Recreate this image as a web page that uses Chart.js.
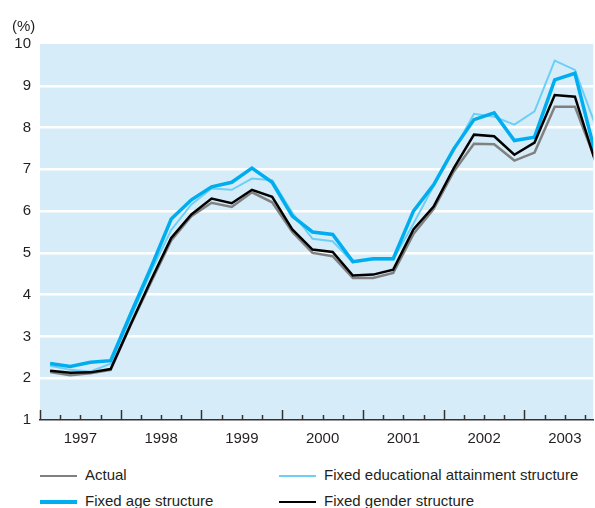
<!DOCTYPE html>
<html>
<head>
<meta charset="utf-8">
<script src="https://cdn.jsdelivr.net/npm/chart.js@4.4.1/dist/chart.umd.min.js"></script>
<style>
  html, body { margin: 0; padding: 0; background: #ffffff; overflow: hidden; }
  body { width: 595px; height: 508px; position: relative; font-family: "Liberation Sans", Arial, Helvetica, sans-serif; color: #231f20; }
  #wrap { position: absolute; left: 0; top: 0; width: 595px; height: 450px; }
  #unit { position: absolute; left: 12px; top: 17px; font-size: 15px; line-height: 18px; }
  #legend { position: absolute; left: 0; top: 464px; width: 595px; height: 44px; font-size: 15px; }
  .item { position: absolute; height: 22px; line-height: 22px; white-space: nowrap; }
  .swatch { position: absolute; left: 0; width: 37px; }
  .label { position: absolute; left: 45px; top: 0; }
</style>
</head>
<body>
<div id="wrap"><canvas id="c" width="595" height="450"></canvas></div>
<div id="unit">(%)</div>
<div id="legend"></div>
<script>
// ---- data (quarterly, 1997 Q1 – 2003 Q4) ----
const years = [1997, 1998, 1999, 2000, 2001, 2002, 2003];
const quarters = ['Q1', 'Q2', 'Q3', 'Q4'];
const yTicks = [1, 2, 3, 4, 5, 6, 7, 8, 9, 10];

const actual = [2.15, 2.07, 2.12, 2.20, 3.28, 4.30, 5.30, 5.88, 6.20, 6.10, 6.45, 6.21, 5.50, 5.00, 4.92, 4.40, 4.40, 4.52, 5.45, 6.05, 6.95, 7.61, 7.60, 7.21, 7.40, 8.50, 8.50, 7.24];
const fixedEducation = [2.30, 2.20, 2.16, 2.35, 3.45, 4.55, 5.55, 6.16, 6.54, 6.51, 6.78, 6.74, 5.96, 5.34, 5.28, 4.77, 4.84, 4.84, 5.70, 6.60, 7.45, 8.33, 8.26, 8.07, 8.39, 9.60, 9.38, 8.08];
const fixedAge = [2.35, 2.28, 2.38, 2.42, 3.55, 4.65, 5.81, 6.27, 6.58, 6.69, 7.03, 6.69, 5.88, 5.50, 5.44, 4.79, 4.86, 4.86, 6.00, 6.63, 7.49, 8.19, 8.35, 7.69, 7.77, 9.14, 9.30, 7.40];
const fixedGender = [2.18, 2.13, 2.14, 2.22, 3.30, 4.35, 5.36, 5.92, 6.30, 6.19, 6.51, 6.34, 5.56, 5.08, 5.02, 4.46, 4.48, 4.60, 5.56, 6.11, 7.03, 7.83, 7.79, 7.35, 7.64, 8.78, 8.74, 7.20];

const seriesNames = ['Actual', 'Fixed educational attainment structure', 'Fixed age structure', 'Fixed gender structure'];

// period labels and positions (each quarter is one unit, point in its middle)
const periods = [];
years.forEach(y => quarters.forEach(q => periods.push(y + ' ' + q)));
const toPoints = arr => arr.map((v, i) => ({ x: i + 0.5, y: v, period: periods[i] }));

const TEXT = '#231f20';
const FONT = { family: '"Liberation Sans", Arial, Helvetica, sans-serif', size: 15 };

const datasets = [
  { label: seriesNames[0], data: toPoints(actual), borderColor: '#808080', borderWidth: 2.5, order: 4 },
  { label: seriesNames[1], data: toPoints(fixedEducation), borderColor: '#6dcff6', borderWidth: 2, order: 3 },
  { label: seriesNames[2], data: toPoints(fixedAge), borderColor: '#00aeef', borderWidth: 3.5, order: 2 },
  { label: seriesNames[3], data: toPoints(fixedGender), borderColor: '#000000', borderWidth: 2.5, order: 1 }
].map(d => Object.assign(d, { pointRadius: 0, tension: 0, fill: false, clip: 0, borderJoinStyle: 'miter' }));

// background of plot area
const plotBg = {
  id: 'plotBg',
  beforeDraw(chart) {
    const { ctx, chartArea: a } = chart;
    ctx.save();
    ctx.fillStyle = '#d6edf9';
    ctx.fillRect(a.left, a.top, a.right - a.left, a.bottom - a.top);
    ctx.restore();
  }
};

// inward tick marks on the x axis (long at year boundaries, short at quarters)
const xTickMarks = {
  id: 'xTickMarks',
  afterDatasetsDraw(chart) {
    const sx = chart.scales.x, a = chart.chartArea, ctx = chart.ctx;
    ctx.save();
    ctx.strokeStyle = '#333333';
    ctx.lineWidth = 1.5;
    sx.ticks.forEach(t => {
      const px = Math.round(sx.getPixelForValue(t.value)) + 0.5;
      if (px > a.right + 1) return;
      const len = (t.value % 4 === 0) ? 10 : 5;
      ctx.beginPath();
      ctx.moveTo(px, a.bottom);
      ctx.lineTo(px, a.bottom - len);
      ctx.stroke();
    });
    ctx.restore();
  }
};

const nQuarters = periods.length;

new Chart(document.getElementById('c'), {
  type: 'line',
  data: { datasets },
  plugins: [plotBg, xTickMarks],
  options: {
    responsive: false,
    animation: false,
    layout: { padding: { top: 44, left: 0, right: 0, bottom: 0 } },
    plugins: { legend: { display: false }, tooltip: { enabled: false } },
    scales: {
      x: {
        type: 'linear',
        min: 0,
        max: 27.41,
        afterBuildTicks(scale) {
          const t = [];
          for (let i = 0; i < nQuarters; i++) t.push({ value: i });
          scale.ticks = t;
        },
        afterFit(scale) { scale.height = 30; },
        grid: { display: false, drawTicks: false, tickLength: 0 },
        border: { display: true, color: '#333333', width: 1.5 },
        ticks: {
          autoSkip: false,
          maxRotation: 0,
          padding: 10,
          color: TEXT,
          font: FONT,
          callback: (v) => (v % 4 === 2) ? String(years[(v - 2) / 4]) : ''
        }
      },
      y: {
        min: yTicks[0],
        max: yTicks[yTicks.length - 1],
        afterBuildTicks(scale) { scale.ticks = yTicks.map(v => ({ value: v })); },
        afterFit(scale) { scale.width = 40; },
        grid: {
          drawTicks: false,
          lineWidth: 2.5,
          color: (c) => (c.tick && (c.tick.value === yTicks[0] || c.tick.value === yTicks[yTicks.length - 1])) ? 'rgba(0,0,0,0)' : '#ffffff'
        },
        border: { display: false },
        ticks: { padding: 9, color: TEXT, font: FONT }
      }
    }
  }
});

// HTML legend built from the datasets (two columns)
const legend = document.getElementById('legend');
const layout = [[0, 0], [1, 0], [0, 1], [1, 1]]; // [column, row] for each series in order
const colX = [40, 279];
datasets.forEach((d, i) => {
  const [c, r] = layout[i];
  const item = document.createElement('div');
  item.className = 'item';
  item.style.left = colX[c] + 'px';
  item.style.top = (r * 26) + 'px';
  const sw = document.createElement('div');
  sw.className = 'swatch';
  sw.style.height = d.borderWidth + 'px';
  sw.style.top = (12 - d.borderWidth / 2) + 'px';
  sw.style.background = d.borderColor;
  const lb = document.createElement('span');
  lb.className = 'label';
  lb.textContent = d.label;
  item.appendChild(sw);
  item.appendChild(lb);
  legend.appendChild(item);
});
</script>
</body>
</html>
